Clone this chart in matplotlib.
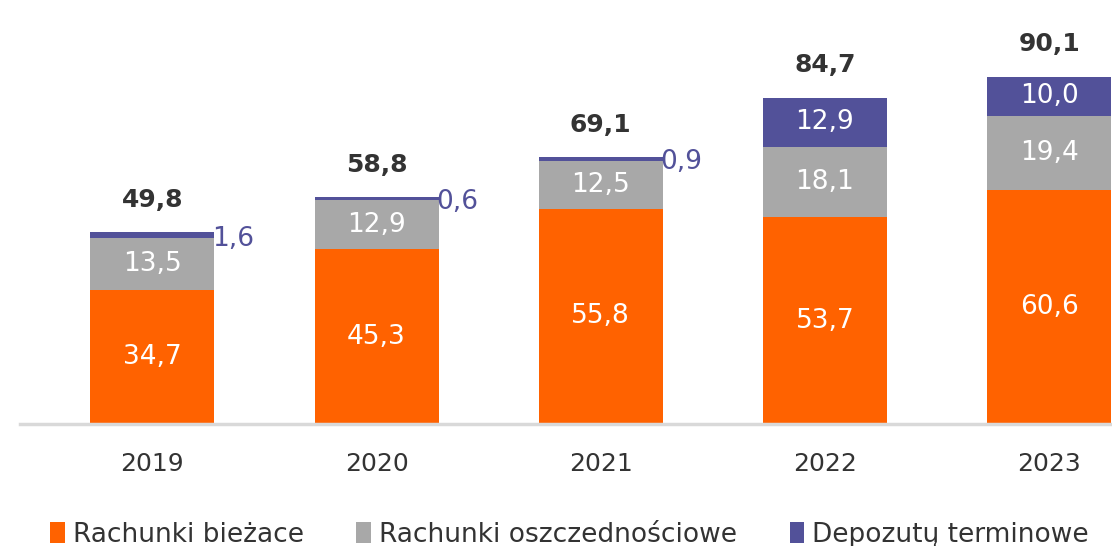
import matplotlib.pyplot as plt
import numpy as np

years = ["2019", "2020", "2021", "2022", "2023"]
biezace = [34.7, 45.3, 55.8, 53.7, 60.6]
oszczednosciowe = [13.5, 12.9, 12.5, 18.1, 19.4]
terminowe = [1.6, 0.6, 0.9, 12.9, 10.0]
totals = [49.8, 58.8, 69.1, 84.7, 90.1]

c_orange = "#FF6200"
c_gray = "#A8A8A8"
c_purple = "#525199"

plt.rcParams['font.family'] = ['DejaVu Sans']

def fmt(v):
    return f"{v:.1f}".replace(".", ",")

fig = plt.figure(figsize=(11.12, 5.46), dpi=100)
ax = fig.add_axes([20 / 1112, 122 / 546, 1092 / 1112, 424 / 546])

x = np.arange(len(years))
w = 0.553
b1 = np.array(biezace)
b2 = b1 + np.array(oszczednosciowe)

ax.bar(x, biezace, w, color=c_orange, label="Rachunki bieżace")
ax.bar(x, oszczednosciowe, w, bottom=b1, color=c_gray, label="Rachunki oszczednościowe")
ax.bar(x, terminowe, w, bottom=b2, color=c_purple, label="Depozutų terminowe")

for i in range(len(years)):
    ax.text(x[i], biezace[i] / 2, fmt(biezace[i]), ha="center", va="center",
            color="white", fontsize=19)
    ax.text(x[i], b1[i] + oszczednosciowe[i] / 2, fmt(oszczednosciowe[i]),
            ha="center", va="center", color="white", fontsize=19)
    if terminowe[i] > 5:
        ax.text(x[i], b2[i] + terminowe[i] / 2, fmt(terminowe[i]),
                ha="center", va="center", color="white", fontsize=19)
    else:
        ax.text(x[i] + w / 2 - 0.01, b2[i] + terminowe[i] / 2 - 0.9, fmt(terminowe[i]),
                ha="left", va="center", color=c_purple, fontsize=19)
    ax.text(x[i], totals[i] + 5.3, fmt(totals[i]), ha="center", va="bottom",
            color="#333333", fontsize=18, fontweight="bold")

ax.set_xlim(-0.59, 4.28)
ax.set_ylim(0, 110)
ax.set_xticks(x)
ax.set_xticklabels(years, fontsize=18, color="#333333")
ax.tick_params(axis="x", length=0, pad=20)
ax.set_yticks([])
for s in ["top", "right", "left"]:
    ax.spines[s].set_visible(False)
ax.spines["bottom"].set_color("#d9d9d9")
ax.spines["bottom"].set_linewidth(2.5)

fig.legend(loc="center", bbox_to_anchor=(0.512, 11 / 546), ncol=3, frameon=False,
           fontsize=19, handlelength=0.55, handleheight=0.85, handletextpad=0.3,
           columnspacing=2.0, labelcolor="#333333")

fig.savefig("out.png", dpi=100)
